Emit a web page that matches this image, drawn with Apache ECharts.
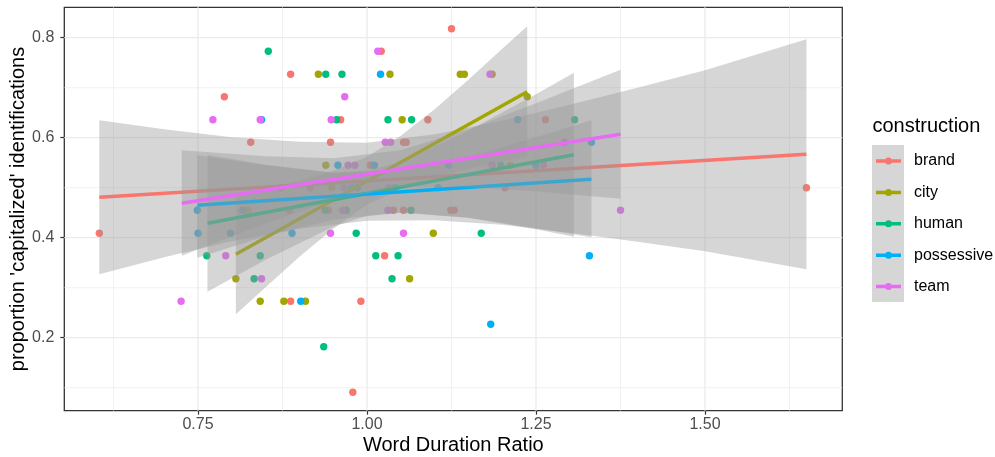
<!DOCTYPE html>
<html>
<head>
<meta charset="utf-8">
<script src="https://cdn.jsdelivr.net/npm/echarts@6/dist/echarts.min.js"></script>
<style>
  html, body { margin: 0; padding: 0; background: #fff; }
  #chart { width: 995px; height: 457px; }
</style>
</head>
<body>
<div id="chart"></div>
<script>
var groups = ['brand', 'city', 'human', 'possessive', 'team'];
var colors = ['#F8766D', '#A3A500', '#00BF7D', '#00B0F6', '#E76BF3'];

var xTicks = [0.75, 1.00, 1.25, 1.50];
var xMinor = [0.625, 0.875, 1.125, 1.375, 1.625];
var yTicks = [0.2, 0.4, 0.6, 0.8];
var yMinor = [0.1, 0.3, 0.5, 0.7];

// points
var brandX = [1.125, 1.021, 0.887, 0.789, 0.961, 1.090, 1.264, 0.828, 0.946, 1.054, 1.058, 1.005, 0.916, 1.204, 1.650, 0.885, 0.943, 1.039, 1.054, 1.124, 1.129, 0.604, 1.026, 0.887, 0.991, 0.979];
var brandY = [0.818, 0.773, 0.727, 0.682, 0.636, 0.636, 0.636, 0.591, 0.591, 0.591, 0.591, 0.545, 0.500, 0.500, 0.500, 0.455, 0.455, 0.455, 0.455, 0.455, 0.455, 0.409, 0.364, 0.273, 0.273, 0.091];
var cityX = [0.928, 1.034, 1.138, 1.144, 1.185, 1.237, 1.052, 0.939, 1.212, 0.872, 0.948, 0.824, 1.098, 0.806, 1.063, 0.842, 0.877, 0.909];
var cityY = [0.727, 0.727, 0.727, 0.727, 0.727, 0.682, 0.636, 0.545, 0.545, 0.500, 0.500, 0.455, 0.409, 0.318, 0.318, 0.273, 0.273, 0.273];
var humanX = [0.854, 0.939, 0.963, 0.955, 1.031, 1.066, 1.307, 1.198, 0.938, 0.969, 1.065, 0.984, 1.169, 0.763, 0.842, 1.013, 1.046, 0.833, 1.037, 0.936];
var humanY = [0.773, 0.727, 0.727, 0.636, 0.636, 0.636, 0.636, 0.545, 0.455, 0.455, 0.455, 0.409, 0.409, 0.364, 0.364, 0.364, 0.364, 0.318, 0.318, 0.182];
var possessiveX = [1.020, 0.844, 1.223, 1.332, 0.957, 1.011, 1.121, 1.250, 0.977, 0.986, 1.041, 1.105, 0.749, 0.816, 0.750, 0.798, 0.889, 1.329, 0.902, 1.183];
var possessiveY = [0.727, 0.636, 0.636, 0.591, 0.545, 0.545, 0.545, 0.545, 0.500, 0.500, 0.500, 0.500, 0.455, 0.455, 0.409, 0.409, 0.409, 0.364, 0.273, 0.227];
var teamX = [1.016, 1.182, 0.967, 0.772, 0.842, 0.947, 1.027, 1.035, 1.292, 0.972, 0.982, 1.185, 1.261, 0.966, 1.032, 0.964, 1.031, 1.375, 0.946, 1.054, 0.791, 0.844, 0.725];
var teamY = [0.773, 0.727, 0.682, 0.636, 0.636, 0.636, 0.591, 0.591, 0.591, 0.545, 0.545, 0.545, 0.545, 0.500, 0.500, 0.455, 0.455, 0.455, 0.409, 0.409, 0.364, 0.318, 0.273];

// fitted lines (start, end)
var brandFit = [[0.604, 0.481], [1.650, 0.567]];
var cityFit = [[0.806, 0.367], [1.237, 0.692]];
var humanFit = [[0.764, 0.429], [1.306, 0.566]];
var possessiveFit = [[0.749, 0.465], [1.332, 0.517]];
var teamFit = [[0.726, 0.469], [1.375, 0.607]];

// confidence bands
var brandBandX = [0.604, 0.70, 0.80, 0.90, 1.00, 1.10, 1.20, 1.30, 1.40, 1.50, 1.650];
var brandBandLo = [0.327, 0.361, 0.393, 0.418, 0.434, 0.435, 0.426, 0.410, 0.392, 0.373, 0.337];
var brandBandHi = [0.635, 0.617, 0.601, 0.592, 0.590, 0.607, 0.634, 0.666, 0.700, 0.735, 0.797];
var cityBandX = [0.806, 0.85, 0.90, 0.95, 1.00, 1.05, 1.10, 1.15, 1.20, 1.237];
var cityBandLo = [0.247, 0.301, 0.362, 0.418, 0.466, 0.498, 0.521, 0.538, 0.552, 0.561];
var cityBandHi = [0.487, 0.499, 0.514, 0.534, 0.562, 0.604, 0.657, 0.716, 0.778, 0.823];
var humanBandX = [0.764, 0.85, 0.95, 1.00, 1.05, 1.15, 1.25, 1.306];
var humanBandLo = [0.292, 0.356, 0.422, 0.444, 0.451, 0.440, 0.417, 0.402];
var humanBandHi = [0.566, 0.546, 0.530, 0.534, 0.551, 0.614, 0.687, 0.730];
var possessiveBandX = [0.749, 0.85, 0.95, 1.05, 1.15, 1.25, 1.332];
var possessiveBandLo = [0.360, 0.403, 0.436, 0.450, 0.440, 0.419, 0.401];
var possessiveBandHi = [0.565, 0.545, 0.530, 0.534, 0.562, 0.601, 0.635];
var teamBandX = [0.726, 0.85, 0.95, 1.05, 1.15, 1.25, 1.375];
var teamBandLo = [0.364, 0.429, 0.475, 0.501, 0.501, 0.493, 0.478];
var teamBandHi = [0.575, 0.563, 0.559, 0.575, 0.617, 0.669, 0.736];

var pointsX = [brandX, cityX, humanX, possessiveX, teamX];
var pointsY = [brandY, cityY, humanY, possessiveY, teamY];
var fits = [brandFit, cityFit, humanFit, possessiveFit, teamFit];
var bandsX = [brandBandX, cityBandX, humanBandX, possessiveBandX, teamBandX];
var bandsLo = [brandBandLo, cityBandLo, humanBandLo, possessiveBandLo, teamBandLo];
var bandsHi = [brandBandHi, cityBandHi, humanBandHi, possessiveBandHi, teamBandHi];

var xMin = 0.5522, xMax = 1.7031, yMin = 0.054, yMax = 0.8608;
var font = 'Liberation Sans, Arial, Helvetica, sans-serif';

function zip(xs, ys) {
  return xs.map(function (x, i) { return [x, ys[i]]; });
}

// panel grid lines, drawn through the axes
function gridSeries() {
  var data = [];
  xMinor.forEach(function (v) { data.push([v, 0.5, 0.7, 0]); });
  yMinor.forEach(function (v) { data.push([1, v, 0.7, 1]); });
  xTicks.forEach(function (v) { data.push([v, 0.5, 1.3, 0]); });
  yTicks.forEach(function (v) { data.push([1, v, 1.3, 1]); });
  return {
    type: 'custom',
    silent: true,
    z: 1,
    data: data,
    encode: { x: 0, y: 1 },
    renderItem: function (params, api) {
      var p1, p2;
      if (api.value(3) === 0) {
        p1 = api.coord([api.value(0), yMin]);
        p2 = api.coord([api.value(0), yMax]);
      } else {
        p1 = api.coord([xMin, api.value(1)]);
        p2 = api.coord([xMax, api.value(1)]);
      }
      return {
        type: 'line',
        shape: { x1: p1[0], y1: p1[1], x2: p2[0], y2: p2[1] },
        style: { stroke: '#ebebeb', lineWidth: api.value(2) }
      };
    }
  };
}

function bandSeries(i) {
  var bx = bandsX[i], lo = bandsLo[i], hi = bandsHi[i];
  return {
    type: 'custom',
    silent: true,
    z: 3 + i * 2,
    data: [[bx[0], lo[0]]],
    renderItem: function (params, api) {
      var pts = [];
      for (var k = 0; k < bx.length; k++) pts.push(api.coord([bx[k], hi[k]]));
      for (var j = bx.length - 1; j >= 0; j--) pts.push(api.coord([bx[j], lo[j]]));
      return {
        type: 'polygon',
        shape: { points: pts },
        style: { fill: 'rgba(153,153,153,0.4)' }
      };
    }
  };
}

var series = [gridSeries()];
groups.forEach(function (g, i) {
  series.push({
    name: g,
    type: 'scatter',
    z: 2,
    symbolSize: 7.4,
    itemStyle: { color: colors[i], opacity: 1 },
    data: zip(pointsX[i], pointsY[i])
  });
});
groups.forEach(function (g, i) {
  series.push(bandSeries(i));
  series.push({
    name: g,
    type: 'line',
    z: 4 + i * 2,
    symbol: 'none',
    silent: true,
    lineStyle: { color: colors[i], width: 3.5 },
    data: fits[i]
  });
});

// line with a dot, as in the ggplot key
var keyIcon = 'path://M0,1.75 L25,1.75 L25,5.25 L0,5.25 Z M9,3.5 A3.5,3.5 0 1,1 16,3.5 A3.5,3.5 0 1,1 9,3.5 Z';

var option = {
  animation: false,
  backgroundColor: '#fff',
  textStyle: { fontFamily: font },
  grid: {
    left: 64.3, top: 7.3, width: 778, height: 403.4,
    containLabel: false, outerBoundsMode: 'none',
    show: true, borderColor: '#333', borderWidth: 1.3, backgroundColor: 'transparent'
  },
  xAxis: {
    type: 'value', min: xMin, max: xMax,
    name: 'Word Duration Ratio', nameLocation: 'middle', nameGap: 25, nameMoveOverlap: false,
    nameTextStyle: { color: '#000', fontSize: 20, fontFamily: font },
    axisLine: { show: false, onZero: false },
    axisTick: { show: true, customValues: xTicks, length: 4, lineStyle: { color: '#333', width: 1.2 } },
    axisLabel: { customValues: xTicks, color: '#4d4d4d', fontSize: 16, margin: 6, fontFamily: font,
      formatter: function (v) { return v.toFixed(2); } },
    splitLine: { show: false }
  },
  yAxis: {
    type: 'value', min: yMin, max: yMax,
    name: "proportion 'capitalized' identifications", nameLocation: 'middle', nameGap: 36, nameRotate: 90,
    nameMoveOverlap: false,
    nameTextStyle: { color: '#000', fontSize: 20, fontFamily: font },
    axisLine: { show: false, onZero: false },
    axisTick: { show: true, customValues: yTicks, length: 4, lineStyle: { color: '#333', width: 1.2 } },
    axisLabel: { customValues: yTicks, color: '#4d4d4d', fontSize: 16, margin: 10, fontFamily: font,
      formatter: function (v) { return v.toFixed(1); } },
    splitLine: { show: false }
  },
  legend: {
    orient: 'vertical', left: 876, top: 151, padding: 0,
    itemWidth: 25, itemHeight: 7, itemGap: 11.4,
    selectedMode: false,
    data: groups.map(function (g) { return { name: g, icon: keyIcon }; }),
    textStyle: { color: '#000', fontSize: 16, lineHeight: 20, fontFamily: font, padding: [0, 0, 0, 8] }
  },
  graphic: [
    { type: 'rect', z: 1, shape: { x: 872, y: 145, width: 32, height: 157 }, style: { fill: '#d6d6d6' } },
    { type: 'text', z: 1, x: 872.5, y: 126,
      style: { text: 'construction', fontSize: 20, fontFamily: font, fill: '#000', verticalAlign: 'middle' } }
  ],
  series: series
};

var chart = echarts.init(document.getElementById('chart'));
chart.setOption(option);
</script>
</body>
</html>
